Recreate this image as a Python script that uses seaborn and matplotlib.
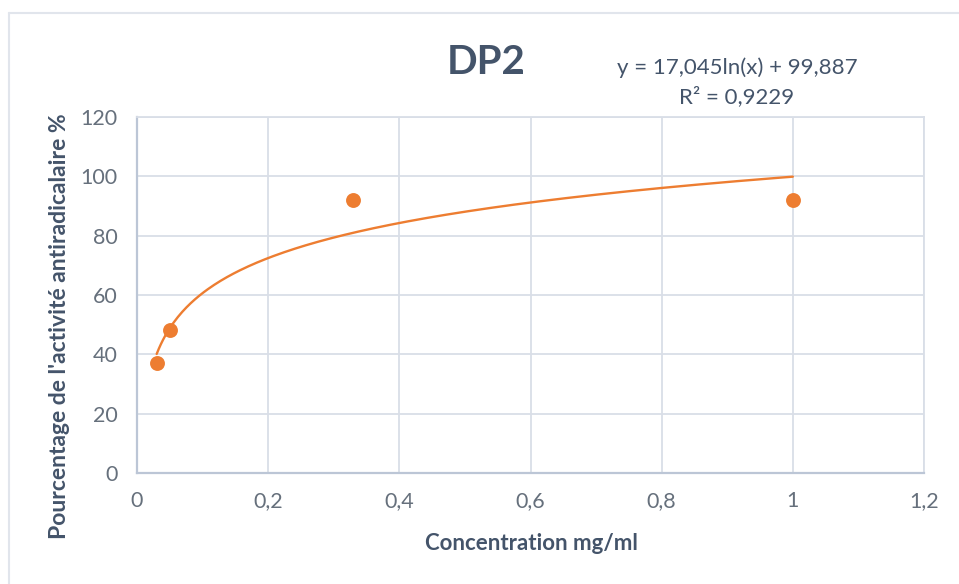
import numpy as np
import pandas as pd
import matplotlib
matplotlib.use("Agg")
import matplotlib.pyplot as plt
from matplotlib.lines import Line2D
import seaborn as sns

# Measured points
concentration = [0.03, 0.05, 0.33, 1.0]
activity = [37.0, 48.2, 92.1, 92.1]

# Logarithmic trendline: y = a*ln(x) + b
coef_a = 17.045
coef_b = 99.887
r_squared = 0.9229

x_ticks = [0, 0.2, 0.4, 0.6, 0.8, 1.0, 1.2]
x_tick_labels = ["0", "0,2", "0,4", "0,6", "0,8", "1", "1,2"]
y_ticks = [0, 20, 40, 60, 80, 100, 120]

title = "DP2"
x_title = "Concentration mg/ml"
y_title = "Pourcentage de l'activité antiradicalaire %"

sns.set_theme(style="white")
plt.rcParams["font.family"] = ["Lato", "DejaVu Sans"]

orange = "#ED7D31"
text_col = "#44546A"
tick_col = "#66707C"
grid_col = "#D9DEE7"
axis_col = "#BCC6D6"

fig = plt.figure(figsize=(9.59, 5.84), dpi=100)
ax = fig.add_axes([137 / 959, 1 - 473 / 584, (924 - 137) / 959, (473 - 117) / 584])

df = pd.DataFrame({"x": concentration, "y": activity})
xs = np.linspace(min(concentration), max(concentration), 300)
trend = pd.DataFrame({"x": xs, "y": coef_a * np.log(xs) + coef_b})

sns.lineplot(data=trend, x="x", y="y", ax=ax, color=orange, linewidth=1.7, zorder=3)
sns.scatterplot(data=df, x="x", y="y", ax=ax, color=orange, s=115,
                edgecolor=orange, linewidth=0, zorder=4)

ax.set_xlim(0, 1.2)
ax.set_ylim(0, 120)
ax.set_xticks(x_ticks)
ax.set_xticklabels(x_tick_labels)
ax.set_yticks(y_ticks)
ax.grid(True, color=grid_col, linewidth=1.3)
ax.set_axisbelow(True)
ax.tick_params(axis="both", length=0, labelsize=15.5, colors=tick_col)
ax.tick_params(axis="y", pad=14)
ax.tick_params(axis="x", pad=13)
for side in ("top", "right"):
    ax.spines[side].set_color(grid_col)
    ax.spines[side].set_linewidth(1.3)
for side in ("left", "bottom"):
    ax.spines[side].set_color(axis_col)
    ax.spines[side].set_linewidth(1.6)

ax.set_xlabel("")
ax.set_ylabel("")
fig.text(531 / 959, 1 - 543 / 584, x_title, ha="center", va="center",
         fontsize=16, fontweight="bold", color=text_col)
fig.text(60 / 959, 1 - 326 / 584, y_title, ha="center", va="center",
         rotation=90, fontsize=16.5, fontweight="bold", color=text_col)
fig.text(486 / 959, 1 - 62 / 584, title, ha="center", va="center",
         fontsize=29, fontweight="bold", color=text_col)

eq1 = "y = {}ln(x) + {}".format(f"{coef_a:.3f}".replace(".", ","),
                                 f"{coef_b:.3f}".replace(".", ","))
eq2 = "R² = {}".format(f"{r_squared:.4f}".replace(".", ","))
fig.text(737 / 959, 1 - 68 / 584, eq1, ha="center", va="center",
         fontsize=16, color=text_col)
fig.text(737 / 959, 1 - 97 / 584, eq2, ha="center", va="center",
         fontsize=16, color=text_col)

# Chart-area frame
fig.add_artist(Line2D([9 / 959, 1.0], [1 - 13 / 584, 1 - 13 / 584],
                      transform=fig.transFigure, color="#E1E5EC", linewidth=1.5))
fig.add_artist(Line2D([9 / 959, 9 / 959], [0.0, 1 - 13 / 584],
                      transform=fig.transFigure, color="#E1E5EC", linewidth=1.5))

fig.savefig("out.png", dpi=100, facecolor="white")
